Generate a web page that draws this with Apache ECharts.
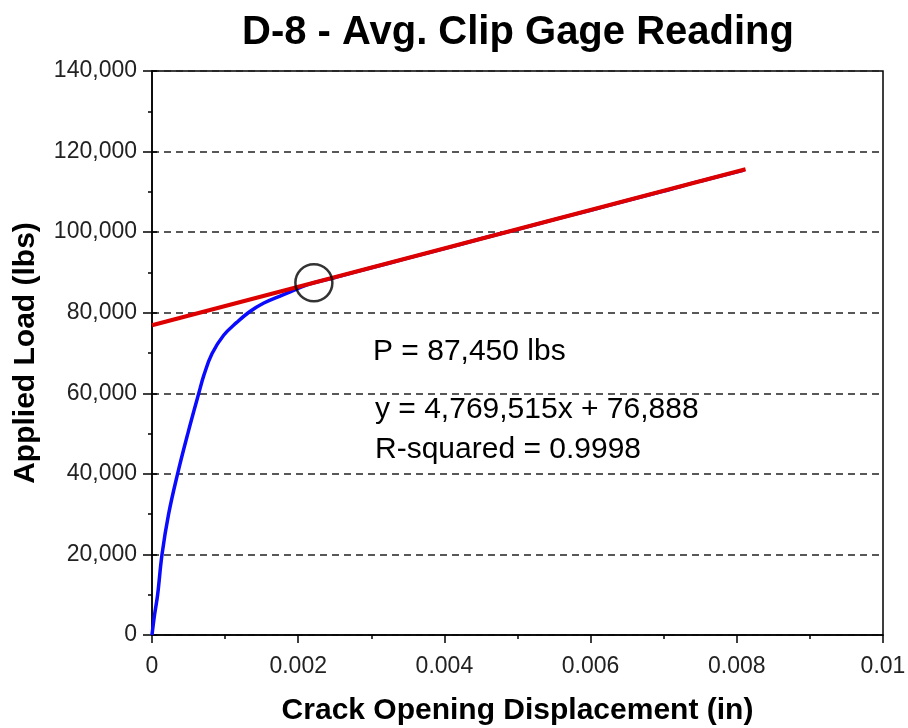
<!DOCTYPE html>
<html>
<head>
<meta charset="utf-8">
<title>D-8 - Avg. Clip Gage Reading</title>
<script src="https://cdn.jsdelivr.net/npm/echarts@6/dist/echarts.min.js"></script>
<style>
  html, body { margin: 0; padding: 0; background: #fff; }
  #chart { width: 908px; height: 728px; }
</style>
</head>
<body>
<div id="chart"></div>
<script>
// Crack opening displacement (in) vs applied load (lbs), averaged clip gage
var codIn = [0, 0.000035, 0.000077, 0.000137, 0.000227, 0.00035, 0.00049, 0.00064, 0.00071,
  0.00082, 0.00098, 0.00116, 0.00134, 0.00153, 0.00176, 0.00198, 0.00214, 0.0025, 0.003,
  0.0035, 0.004, 0.0045, 0.005, 0.0055, 0.006, 0.0065, 0.007, 0.0075, 0.0081];
var loadLbs = [0, 5000, 10000, 20000, 30000, 40000, 50000, 60000, 64500,
  69800, 74400, 77600, 80300, 82400, 84200, 85850, 87050, 88750, 91150,
  93550, 95900, 98350, 100700, 103100, 105450, 107850, 110200, 112650, 115400];

// Linear fit of the upper portion
var fitSlope = 4769515;
var fitIntercept = 76888;
var fitRangeIn = [0, 0.00812];
var fitRSquared = 0.9998;

// Selected load P and its displacement on the fit line
var peakLoad = 87450;
var peakCod = (peakLoad - fitIntercept) / fitSlope;

var yTicks = { min: 0, max: 140000, step: 20000 };
var xTicks = { min: 0, max: 0.01, step: 0.002 };

var curve = codIn.map(function (x, i) { return [x, loadLbs[i]]; });
var fitLine = fitRangeIn.map(function (x) { return [x, fitSlope * x + fitIntercept]; });

function fmtInt(v) { return Math.round(v).toLocaleString('en-US'); }

var chart = echarts.init(document.getElementById('chart'));
var FONT = 'Liberation Sans, Arial, sans-serif';

chart.setOption({
  animation: false,
  backgroundColor: '#fff',
  title: {
    text: 'D-8 - Avg. Clip Gage Reading',
    left: 513, top: 8, textAlign: 'center',
    textStyle: { fontFamily: FONT, fontWeight: 'bold', fontSize: 40, color: '#000' }
  },
  grid: {
    left: 152, right: 25, top: 71, bottom: 93,
    outerBoundsMode: 'none', containLabel: false,
    show: true, borderColor: '#000', borderWidth: 1.5, backgroundColor: 'transparent'
  },
  xAxis: {
    type: 'value', min: xTicks.min, max: xTicks.max, interval: xTicks.step,
    name: 'Crack Opening Displacement (in)', nameLocation: 'middle', nameGap: 61,
    nameTextStyle: { fontFamily: FONT, fontWeight: 'bold', fontSize: 30, color: '#000' },
    axisLine: { lineStyle: { color: '#000', width: 1.5 } },
    axisTick: { show: true, length: 8, lineStyle: { color: '#000', width: 1.5 } },
    minorTick: { show: true, splitNumber: 2, length: 4, lineStyle: { color: '#000', width: 1.5 } },
    splitLine: { show: false },
    axisLabel: {
      margin: 20, fontFamily: FONT, fontSize: 23, color: '#222',
      formatter: function (v) { return String(parseFloat(v.toFixed(4))); }
    }
  },
  yAxis: [{
    type: 'value', min: yTicks.min, max: yTicks.max, interval: yTicks.step,
    name: 'Applied Load (lbs)', nameLocation: 'middle', nameGap: 111,
    nameTextStyle: { fontFamily: FONT, fontWeight: 'bold', fontSize: 30, color: '#000' },
    axisLine: { show: true, lineStyle: { color: '#000', width: 1.5 } },
    axisTick: { show: true, length: 9, lineStyle: { color: '#000', width: 1.5 } },
    minorTick: { show: true, splitNumber: 2, length: 4, lineStyle: { color: '#000', width: 1.5 } },
    splitLine: { show: true, lineStyle: { color: '#222', width: 1.5, type: [7, 5] } },
    axisLabel: {
      margin: 15, fontFamily: FONT, fontSize: 23, color: '#222',
      formatter: fmtInt
    }
  }, {
    // inner half of the major ticks on the left axis
    type: 'value', position: 'left', min: yTicks.min, max: yTicks.max, interval: yTicks.step,
    axisLine: { show: false },
    axisTick: { show: true, inside: true, length: 5, lineStyle: { color: '#000', width: 1.5 } },
    axisLabel: { show: false }, splitLine: { show: false }
  }],
  series: [{
    name: 'Avg. Clip Gage', type: 'line', data: curve, showSymbol: false,
    smooth: 0.4,
    lineStyle: { color: '#0a0aff', width: 3.5 }, z: 2
  }, {
    name: 'Linear fit', type: 'line', data: fitLine, showSymbol: false,
    lineStyle: { color: '#dd0000', width: 4 }, z: 3
  }, {
    name: 'P', type: 'scatter', data: [[peakCod, peakLoad]], symbol: 'circle', symbolSize: 37,
    itemStyle: { color: 'rgba(0,0,0,0)', borderColor: '#000', borderWidth: 2.5 }, z: 4
  }],
  graphic: [{
    type: 'text', left: 373, top: 337,
    style: { text: 'P = ' + fmtInt(peakLoad) + ' lbs', font: '30px ' + FONT, fill: '#000' }
  }, {
    type: 'text', left: 375, top: 395,
    style: { text: 'y = ' + fmtInt(fitSlope) + 'x + ' + fmtInt(fitIntercept), font: '30px ' + FONT, fill: '#000' }
  }, {
    type: 'text', left: 375, top: 435,
    style: { text: 'R-squared = ' + fitRSquared.toFixed(4), font: '30px ' + FONT, fill: '#000' }
  }]
});
</script>
</body>
</html>
